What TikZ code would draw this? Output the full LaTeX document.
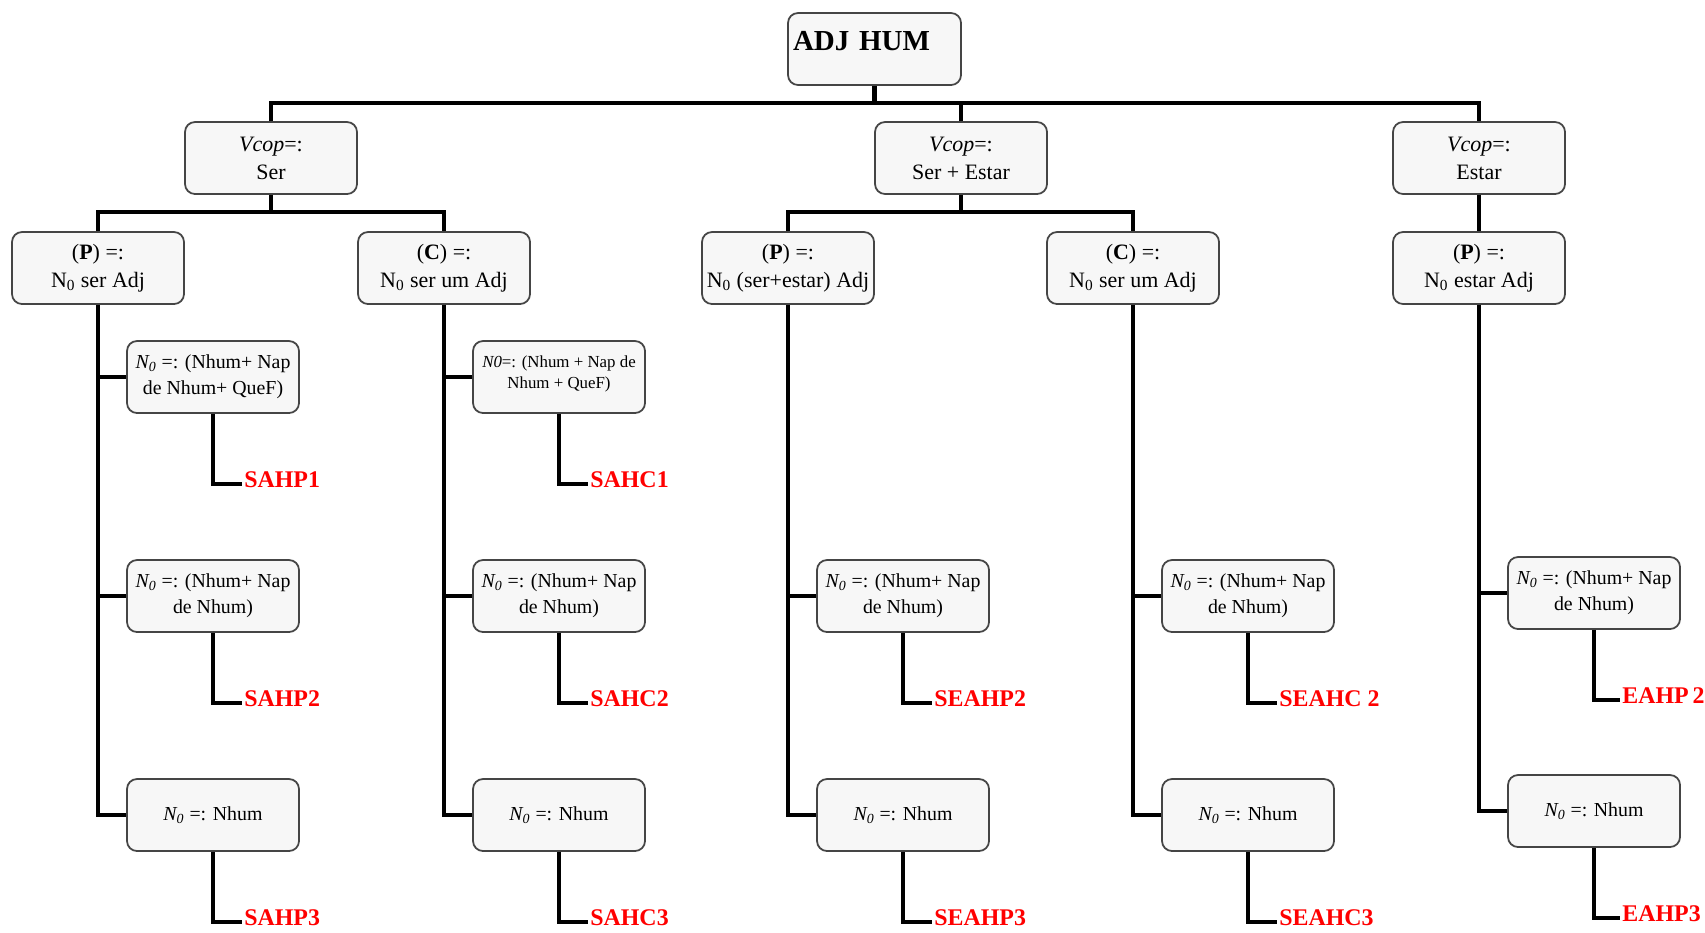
\documentclass[tikz,border=0pt]{standalone}
\usepackage{fontspec}
\setmainfont{Liberation Serif}
\usepackage{tikz}

\definecolor{boxfill}{HTML}{F7F7F7}
\definecolor{boxline}{HTML}{454545}
\newcommand{\Nit}{\textit{N\textsubscript{0}}}
\newcommand{\Nup}{N\textsubscript{0}}

\tikzset{
  box/.style={draw=boxline, fill=boxfill, line width=1pt, rounded corners=0.2cm,
    minimum width=3.44cm, minimum height=1.44cm, align=center, inner sep=0.05cm,
    font=\fontsize{12.5}{16}\selectfont},
  leaf/.style={box, font=\fontsize{11.3}{14.7}\selectfont},
  top/.style={box, font=\fontsize{16.5}{18}\selectfont\bfseries, align=left,
    text width=3.26cm, inner xsep=0.1cm, text height=0.38cm, text depth=0.32cm},
  conn/.style={line width=2.6pt, black},
  res/.style={anchor=west, inner sep=0.04cm, text=red, text depth=0.16cm,
    font=\fontsize{13.6}{16}\selectfont\bfseries}
}

\begin{document}
\begin{tikzpicture}
\useasboundingbox (0,0) rectangle (34.1,-18.64);
\node[top] (adj) at (17.49,-0.98) {ADJ HUM};
\node[box] (vser) at (5.42,-3.16) {\textit{Vcop}=:\\Ser};
\node[box] (vse) at (19.22,-3.16) {\textit{Vcop}=:\\Ser + Estar};
\node[box] (vest) at (29.58,-3.16) {\textit{Vcop}=:\\Estar};
\coordinate (bar1) at (17.49,-2.06);
\coordinate (js) at (5.42,-4.24);
\coordinate (jse) at (19.22,-4.24);
\node[box] (sp) at (1.96,-5.36) {(\textbf{P}) =:\\\Nup{} ser Adj};
\node[box] (sc) at (8.88,-5.36) {(\textbf{C}) =:\\\Nup{} ser um Adj};
\node[box] (sep) at (15.76,-5.36) {(\textbf{P}) =:\\\Nup{} (ser+estar) Adj};
\node[box] (sec) at (22.66,-5.36) {(\textbf{C}) =:\\\Nup{} ser um Adj};
\node[box] (ep) at (29.58,-5.36) {(\textbf{P}) =:\\\Nup{} estar Adj};
% Ser
\node[leaf] (sp1) at (4.26,-7.54) {\Nit{} =: (Nhum+ Nap\\de Nhum+ QueF)};
\node[leaf] (sp2) at (4.26,-11.92) {\Nit{} =: (Nhum+ Nap\\de Nhum)};
\node[leaf] (sp3) at (4.26,-16.30) {\Nit{} =: Nhum};
\node[leaf, font=\fontsize{9.6}{12}\selectfont, text depth=0.2cm] (sc1) at (11.18,-7.54) {\textit{N0}=: (Nhum + Nap de\\Nhum + QueF)};
\node[leaf] (sc2) at (11.18,-11.92) {\Nit{} =: (Nhum+ Nap\\de Nhum)};
\node[leaf] (sc3) at (11.18,-16.30) {\Nit{} =: Nhum};
% Ser + Estar
\node[leaf] (sep2) at (18.06,-11.92) {\Nit{} =: (Nhum+ Nap\\de Nhum)};
\node[leaf] (sep3) at (18.06,-16.30) {\Nit{} =: Nhum};
\node[leaf] (sec2) at (24.96,-11.92) {\Nit{} =: (Nhum+ Nap\\de Nhum)};
\node[leaf] (sec3) at (24.96,-16.30) {\Nit{} =: Nhum};
% Estar
\node[leaf] (ep2) at (31.88,-11.86) {\Nit{} =: (Nhum+ Nap\\de Nhum)};
\node[leaf] (ep3) at (31.88,-16.22) {\Nit{} =: Nhum};
% results
\node[res] (rsp1) at (4.84,-9.68) {SAHP1};
\node[res] (rsp2) at (4.84,-14.06) {SAHP2};
\node[res] (rsp3) at (4.84,-18.44) {SAHP3};
\node[res] (rsc1) at (11.76,-9.68) {SAHC1};
\node[res] (rsc2) at (11.76,-14.06) {SAHC2};
\node[res] (rsc3) at (11.76,-18.44) {SAHC3};
\node[res] (rsep2) at (18.64,-14.06) {SEAHP2};
\node[res] (rsep3) at (18.64,-18.44) {SEAHP3};
\node[res] (rsec2) at (25.54,-14.06) {SEAHC 2};
\node[res] (rsec3) at (25.54,-18.44) {SEAHC3};
\node[res] (rep2) at (32.40,-14.00) {EAHP\,2};
\node[res] (rep3) at (32.40,-18.36) {EAHP3};

\draw[conn] (adj) -- (bar1);
\draw[conn] (vser) |- (bar1) -| (vest);
\draw[conn] (vse) -- (vse |- bar1);
\draw[conn] (vser) -- (js);
\draw[conn] (sp) |- (js) -| (sc);
\draw[conn] (vse) -- (jse);
\draw[conn] (sep) |- (jse) -| (sec);
\draw[conn] (vest) -- (ep);

\draw[conn] (sp) |- (sp3);
\draw[conn] (sp |- sp1) -- (sp1);
\draw[conn] (sp |- sp2) -- (sp2);
\draw[conn] (sc) |- (sc3);
\draw[conn] (sc |- sc1) -- (sc1);
\draw[conn] (sc |- sc2) -- (sc2);
\draw[conn] (sep) |- (sep3);
\draw[conn] (sep |- sep2) -- (sep2);
\draw[conn] (sec) |- (sec3);
\draw[conn] (sec |- sec2) -- (sec2);
\draw[conn] (ep) |- (ep3);
\draw[conn] (ep |- ep2) -- (ep2);

\draw[conn] (sp1) |- (rsp1);
\draw[conn] (sp2) |- (rsp2);
\draw[conn] (sp3) |- (rsp3);
\draw[conn] (sc1) |- (rsc1);
\draw[conn] (sc2) |- (rsc2);
\draw[conn] (sc3) |- (rsc3);
\draw[conn] (sep2) |- (rsep2);
\draw[conn] (sep3) |- (rsep3);
\draw[conn] (sec2) |- (rsec2);
\draw[conn] (sec3) |- (rsec3);
\draw[conn] (ep2) |- (rep2);
\draw[conn] (ep3) |- (rep3);
\end{tikzpicture}
\end{document}
